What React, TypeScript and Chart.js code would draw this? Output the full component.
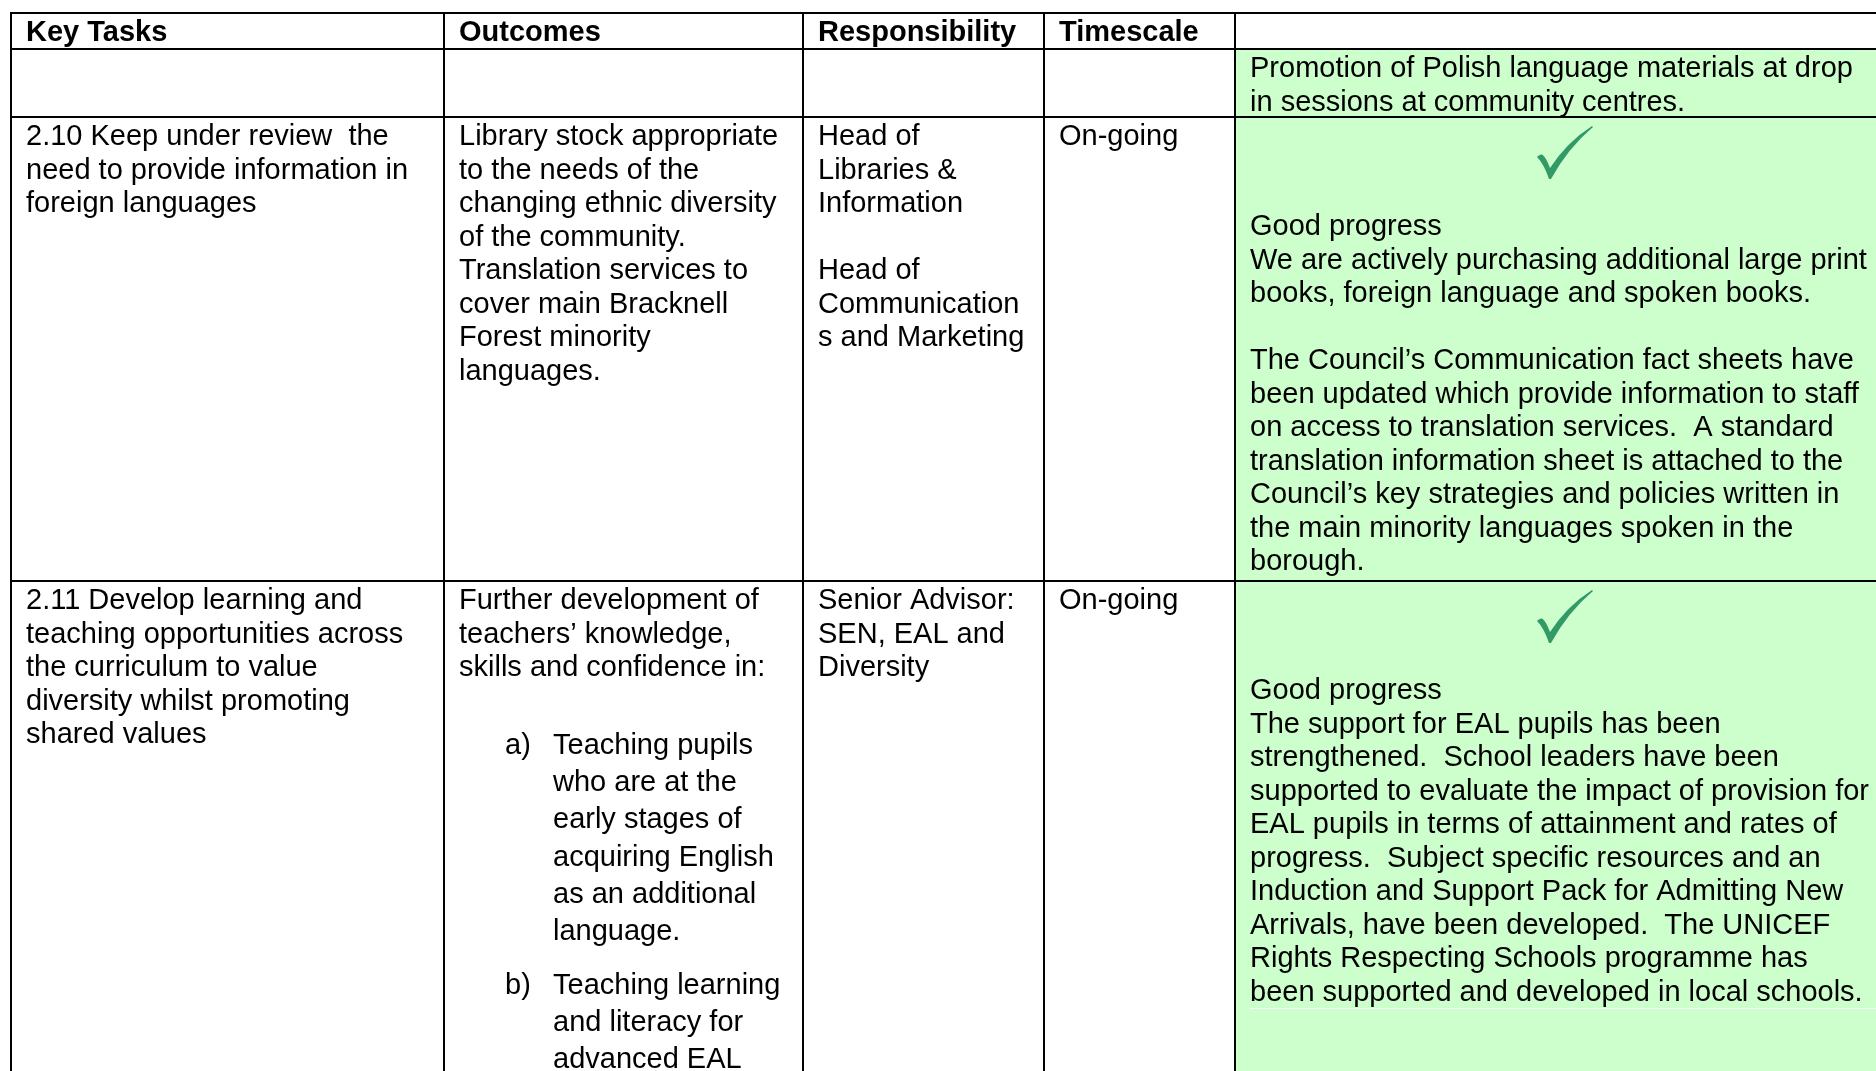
import React, { useEffect, useRef } from "react";
import { Chart, registerables } from "chart.js";

Chart.register(...registerables);

// ---------- Table content (data) ----------
const headers = ["Key Tasks", "Outcomes", "Responsibility", "Timescale", ""];

const row0Status = [
  "Promotion of Polish language materials at drop",
  "in sessions at community centres.",
];

const row1Task = ["2.10 Keep under review  the", "need to provide information in", "foreign languages"];
const row1Outcomes = [
  "Library stock appropriate",
  "to the needs of the",
  "changing ethnic diversity",
  "of the community.",
  "Translation services to",
  "cover main Bracknell",
  "Forest minority",
  "languages.",
];
const row1Responsibility = ["Head of", "Libraries &", "Information", "", "Head of", "Communication", "s and Marketing"];
const row1Timescale = ["On-going"];
const row1Status = [
  "Good progress",
  "We are actively purchasing additional large print",
  "books, foreign language and spoken books.",
  "",
  "The Council\u2019s Communication fact sheets have",
  "been updated which provide information to staff",
  "on access to translation services.  A standard",
  "translation information sheet is attached to the",
  "Council\u2019s key strategies and policies written in",
  "the main minority languages spoken in the",
  "borough.",
];

const row2Task = [
  "2.11 Develop learning and",
  "teaching opportunities across",
  "the curriculum to value",
  "diversity whilst promoting",
  "shared values",
];
const row2Outcomes = ["Further development of", "teachers\u2019 knowledge,", "skills and confidence in:"];
const row2ListLabels = ["a)", "b)"];
const row2ListA = ["Teaching pupils", "who are at the", "early stages of", "acquiring English", "as an additional", "language."];
const row2ListB = ["Teaching learning", "and literacy for", "advanced EAL"];
const row2Responsibility = ["Senior Advisor:", "SEN, EAL and", "Diversity"];
const row2Timescale = ["On-going"];
const row2Status = [
  "Good progress",
  "The support for EAL pupils has been",
  "strengthened.  School leaders have been",
  "supported to evaluate the impact of provision for",
  "EAL pupils in terms of attainment and rates of",
  "progress.  Subject specific resources and an",
  "Induction and Support Pack for Admitting New",
  "Arrivals, have been developed.  The UNICEF",
  "Rights Respecting Schools programme has",
  "been supported and developed in local schools.",
];
// rows that carry a "done" tick in the status column
const statusTicks = [false, true, true];

// ---------- Layout (positions in reference pixel units) ----------
const W = 1876;
const H = 1071;
const COL_LINES = [11, 444, 803, 1044, 1235];
const TABLE_RIGHT = 1895;
const ROW_LINES = [13, 49, 117, 581, 1090];
const PAD_X = 15;
const FIRST_BASE = 28;
const LINE_H = 33.5;
const STATUS_BASE = 118;
const LIST_LINE_H = 37.2;
const LIST_A_BASE = 173;
const LIST_B_BASE = 413;
const LIST_LABEL_X = 505;
const LIST_TEXT_X = 553;
const MARK_X = 1537;
const FONT = '"Liberation Sans", Arial, Helvetica, sans-serif';
const GREEN = "#ccffcc";
const MARK_COLOR = "#339966";

const tablePlugin = {
  id: "tableDraw",
  afterDraw(chart: any) {
    const { ctx } = chart;
    const sx = chart.scales.x;
    const sy = chart.scales.y;
    const px = (v: number) => sx.getPixelForValue(v);
    const py = (v: number) => sy.getPixelForValue(v);

    ctx.save();
    // green status cells
    ctx.fillStyle = GREEN;
    for (let r = 1; r < ROW_LINES.length - 1; r++) {
      const y0 = py(ROW_LINES[r]);
      const y1 = py(ROW_LINES[r + 1]);
      const x0 = px(COL_LINES[4]);
      ctx.fillRect(x0, y0, px(TABLE_RIGHT) - x0, y1 - y0);
    }
    // faint paragraph shading edge
    ctx.strokeStyle = "rgba(255,255,255,0.85)";
    ctx.lineWidth = 1;
    ctx.beginPath();
    ctx.moveTo(px(COL_LINES[4] + PAD_X), py(ROW_LINES[3] + 427) + 0.5);
    ctx.lineTo(px(TABLE_RIGHT), py(ROW_LINES[3] + 427) + 0.5);
    ctx.stroke();

    // grid lines
    ctx.strokeStyle = "#000";
    ctx.lineWidth = 2;
    ctx.beginPath();
    for (let i = 0; i < ROW_LINES.length - 1; i++) {
      ctx.moveTo(px(COL_LINES[0]) - 1, py(ROW_LINES[i]));
      ctx.lineTo(px(TABLE_RIGHT), py(ROW_LINES[i]));
    }
    for (let j = 0; j < COL_LINES.length; j++) {
      ctx.moveTo(px(COL_LINES[j]), py(ROW_LINES[0]));
      ctx.lineTo(px(COL_LINES[j]), py(ROW_LINES[ROW_LINES.length - 1]));
    }
    ctx.stroke();

    // text helpers
    ctx.fillStyle = "#000";
    ctx.textBaseline = "alphabetic";
    ctx.textAlign = "left";
    const lines = (arr: string[], col: number, rowTop: number, base: number, lh: number, xOverride?: number) => {
      const x = xOverride !== undefined ? xOverride : COL_LINES[col] + PAD_X;
      arr.forEach((t, i) => {
        if (t) ctx.fillText(t, px(x), py(rowTop + base + i * lh));
      });
    };

    // header
    ctx.font = "bold 29px " + FONT;
    headers.forEach((h, c) => {
      if (h) ctx.fillText(h, px(COL_LINES[c] + PAD_X), py(ROW_LINES[0] + FIRST_BASE));
    });

    ctx.font = "29px " + FONT;
    // row 0 (continuation)
    lines(row0Status, 4, ROW_LINES[1], FIRST_BASE, LINE_H);

    // row 1
    const r1 = ROW_LINES[2];
    lines(row1Task, 0, r1, FIRST_BASE, LINE_H);
    lines(row1Outcomes, 1, r1, FIRST_BASE, LINE_H);
    lines(row1Responsibility, 2, r1, FIRST_BASE, LINE_H);
    lines(row1Timescale, 3, r1, FIRST_BASE, LINE_H);
    lines(row1Status, 4, r1, STATUS_BASE, LINE_H);

    // row 2
    const r2 = ROW_LINES[3];
    lines(row2Task, 0, r2, FIRST_BASE, LINE_H);
    lines(row2Outcomes, 1, r2, FIRST_BASE, LINE_H);
    ctx.fillText(row2ListLabels[0], px(LIST_LABEL_X), py(r2 + LIST_A_BASE));
    lines(row2ListA, 1, r2, LIST_A_BASE, LIST_LINE_H, LIST_TEXT_X);
    ctx.fillText(row2ListLabels[1], px(LIST_LABEL_X), py(r2 + LIST_B_BASE));
    lines(row2ListB, 1, r2, LIST_B_BASE, LIST_LINE_H, LIST_TEXT_X);
    lines(row2Responsibility, 2, r2, FIRST_BASE, LINE_H);
    lines(row2Timescale, 3, r2, FIRST_BASE, LINE_H);
    lines(row2Status, 4, r2, STATUS_BASE, LINE_H);

    // status ticks (calligraphic check mark)
    ctx.fillStyle = MARK_COLOR;
    statusTicks.forEach((on, r) => {
      if (!on) return;
      const top = ROW_LINES[r + 1];
      const P = (dx: number, dy: number): [number, number] => [px(MARK_X + dx), py(top + dy)];
      ctx.beginPath();
      ctx.moveTo(...P(0, 40));
      ctx.quadraticCurveTo(...P(2.5, 37), ...P(5, 37.5));
      ctx.quadraticCurveTo(...P(9, 40), ...P(13, 51));
      ctx.quadraticCurveTo(...P(30, 25), ...P(55, 9));
      ctx.lineTo(...P(56, 10));
      ctx.quadraticCurveTo(...P(31, 31), ...P(14, 62));
      ctx.lineTo(...P(12, 62));
      ctx.quadraticCurveTo(...P(7, 47), ...P(0, 40));
      ctx.closePath();
      ctx.fill();
    });
    ctx.restore();
  },
};

export default function App() {
  const ref = useRef<HTMLCanvasElement | null>(null);
  useEffect(() => {
    document.body.style.margin = "0";
    document.body.style.overflow = "hidden";
    const canvas = ref.current;
    if (!canvas) return;
    const chart = new Chart(canvas, {
      type: "scatter",
      data: { datasets: [{ data: [], showLine: false }] },
      options: {
        animation: false,
        responsive: false,
        maintainAspectRatio: false,
        devicePixelRatio: 1,
        layout: { padding: 0 },
        plugins: { legend: { display: false }, tooltip: { enabled: false }, title: { display: false } },
        scales: {
          x: { type: "linear", min: 0, max: W, display: false },
          y: { type: "linear", min: 0, max: H, reverse: true, display: false },
        },
      },
      plugins: [tablePlugin],
    });
    return () => chart.destroy();
  }, []);
  return (
    <div style={{ width: W, height: H, background: "#fff" }}>
      <canvas ref={ref} width={W} height={H} style={{ display: "block" }} />
    </div>
  );
}
